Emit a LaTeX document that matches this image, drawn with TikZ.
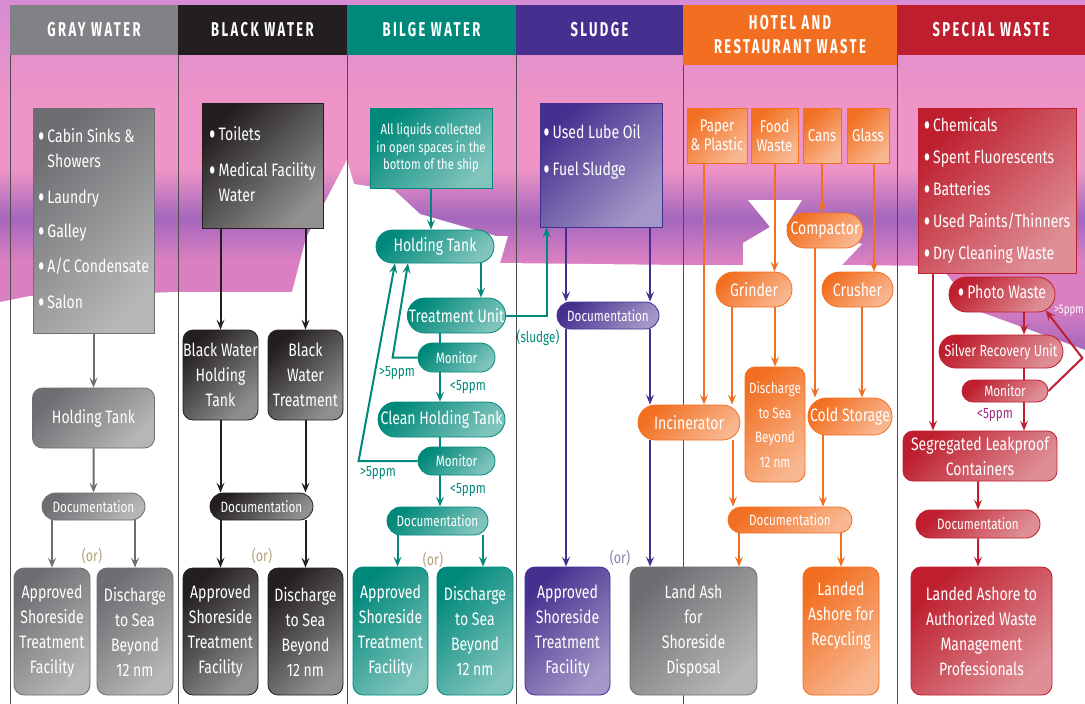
\documentclass[tikz,border=0pt]{standalone}
\usepackage{fontspec}
\setmainfont{Fira Sans}[FakeStretch=0.78]
\newfontfamily\headFont{Fira Sans}[FakeStretch=0.65, LetterSpace=12]
\usepackage{graphicx}
\usepackage{tikz}
\usetikzlibrary{arrows.meta, shapes.misc}

\definecolor{grayC}{HTML}{6D6E71}
\definecolor{grayHd}{HTML}{808285}
\definecolor{blackC}{HTML}{231F20}
\definecolor{tealC}{HTML}{00897A}
\definecolor{purpC}{HTML}{45308F}
\definecolor{orngC}{HTML}{F26F21}
\definecolor{redC}{HTML}{BE1E2D}
\definecolor{orTxt}{HTML}{B4A37A}
\definecolor{orPurp}{HTML}{8C80AC}
\definecolor{ppmRed}{HTML}{9E2A7E}
\definecolor{skyTop}{HTML}{D68CD4}
\definecolor{skyPink}{HTML}{EE94C6}
\definecolor{skyMix}{HTML}{DA80C2}
\definecolor{skyPurp}{HTML}{A466BC}

\def\bigTxt{\fontsize{18}{25}\selectfont}
\def\smallTxt{\fontsize{15}{17}\selectfont}
\newcommand{\bul}{\raisebox{-0.28em}{\scalebox{1.4}[1.8]{\textbullet}}}

\pgfdeclareverticalshading{skyfade}{100bp}{color(0bp)=(skyPurp); color(25bp)=(skyPurp);
  color(32bp)=(skyMix); color(38bp)=(skyMix); color(44bp)=(skyPurp);
  color(51bp)=(skyPink); color(61bp)=(skyPink); color(75bp)=(skyTop); color(100bp)=(skyTop)}

\begin{document}
\begin{tikzpicture}[
    x=1pt, y=-1pt,
    >={Stealth[length=10pt,width=8pt,inset=4pt]},
    every node/.style={inner sep=0pt, text=white, font=\bigTxt, align=center},
    head/.style={fill=#1, minimum height=50pt, font=\headFont\bfseries\fontsize{20}{24}\selectfont},
    srcbox/.style={rectangle, draw=#1, line width=0.8pt, top color=#1, bottom color=#1!50!white, shading angle=45},
    endbox/.style={srcbox=#1, rounded corners=10pt},
    pill/.style={srcbox=#1, rounded rectangle},
    flow/.style={->, draw=#1, line width=2pt},
    wire/.style={draw=#1, line width=2pt},
    lbl/.style={text=#1, font=\smallTxt}
]
\useasboundingbox (0,0) rectangle (1085,704);
\clip (0,0) rectangle (1085,704);

% sky behind the upper half
\shade[shading=skyfade] (0,0) rectangle (1085,352);
\fill[white] (0,704) -- (0,302) -- (30,296) -- (178,292) -- (292,292) -- (306,238)
  -- (347,160) -- (354,184) -- (394,190) -- (420,214) -- (496,236) -- (508,236)
  -- (500,263) -- (683,265) -- (743,265) -- (743,243) -- (770,227) -- (748,200)
  -- (802,200) -- (786,226) -- (862,244) -- (842,265) -- (940,266) -- (975,310)
  -- (1085,350) -- (1085,704) -- cycle;
\foreach \xx in {10,178,347,516,683,897}
  \draw[black!70, line width=0.8pt] (\xx,55) -- (\xx,704);

% headers
\node[head=grayHd, minimum width=168pt] (ghead) at (94,30) {GRAY WATER};
\node[head=blackC, minimum width=169pt] (bhead) at (262.5,30) {BLACK WATER};
\node[head=tealC, minimum width=169pt] (ihead) at (431.5,30) {BILGE WATER};
\node[head=purpC, minimum width=167pt] (shead) at (599.5,30) {SLUDGE};
\node[head=orngC, minimum width=214pt, minimum height=60pt] (hhead) at (790,35) {HOTEL AND\\RESTAURANT WASTE};
\node[head=redC, minimum width=188pt] (rhead) at (991,30) {SPECIAL WASTE};

% gray water
\node[srcbox=grayC, minimum width=121pt, minimum height=225pt] (gsrc) at (93.5,220.5) {%
  \begin{tabular}{@{}l@{\hspace{3pt}}l@{}}
  \bul & Cabin Sinks \&\\
       & Showers\\[11pt]
  \bul & Laundry\\[9pt]
  \bul & Galley\\[10pt]
  \bul & A/C Condensate\\[11pt]
  \bul & Salon
  \end{tabular}};
\node[endbox=grayC, minimum width=122pt, minimum height=60pt] (ghold) at (93.5,418) {Holding Tank};
\node[pill=grayC, minimum width=103pt, minimum height=27pt, font=\smallTxt] (gdoc) at (93.5,506.5) {Documentation};
\node[endbox=grayC, minimum width=76pt, minimum height=127pt] (gappr) at (52,631.5) {Approved\\Shoreside\\Treatment\\Facility};
\node[endbox=grayC, minimum width=76pt, minimum height=127pt] (gdis) at (135,631.5) {Discharge\\to Sea\\Beyond\\12 nm};
\node[lbl=orTxt, font=\fontsize{16}{18}\selectfont] (gor) at (92,556) {(or)};
\draw[flow=grayC] (gsrc) -- (ghold);
\draw[flow=grayC] (ghold) -- (gdoc);
\draw[flow=grayC] (gappr |- gdoc.south) -- (gappr);
\draw[flow=grayC] (gdis |- gdoc.south) -- (gdis);

% black water
\node[srcbox=blackC, minimum width=121pt, minimum height=125pt] (bsrc) at (262.5,165.5) {%
  \begin{tabular}{@{}l@{\hspace{3pt}}l@{}}
  \bul & Toilets\\[11pt]
  \bul & Medical Facility\\
       & Water
  \end{tabular}};
\node[endbox=blackC, minimum width=75pt, minimum height=90pt] (bhold) at (220.5,375) {Black Water\\Holding\\Tank};
\node[endbox=blackC, minimum width=75pt, minimum height=90pt] (btreat) at (305.5,375) {Black\\Water\\Treatment};
\node[pill=blackC, minimum width=103pt, minimum height=27pt, font=\smallTxt] (bdoc) at (261.5,506.5) {Documentation};
\node[endbox=blackC, minimum width=75pt, minimum height=127pt] (bappr) at (220.5,631.5) {Approved\\Shoreside\\Treatment\\Facility};
\node[endbox=blackC, minimum width=75pt, minimum height=127pt] (bdis) at (305.5,631.5) {Discharge\\to Sea\\Beyond\\12 nm};
\node[lbl=orTxt, font=\fontsize{16}{18}\selectfont] (bor) at (262,556) {(or)};
\draw[flow=blackC] (bhold |- bsrc.south) -- (bhold);
\draw[flow=blackC] (btreat |- bsrc.south) -- (btreat);
\draw[flow=blackC] (bhold) -- (bhold |- bdoc.north);
\draw[flow=blackC] (btreat) -- (btreat |- bdoc.north);
\draw[flow=blackC] (bappr |- bdoc.south) -- (bappr);
\draw[flow=blackC] (bdis |- bdoc.south) -- (bdis);

% bilge water
\node[srcbox=tealC, minimum width=122pt, minimum height=80pt, font=\fontsize{14.5}{17.5}\selectfont] (isrc) at (431,148) {All liquids collected\\in open spaces in the\\bottom of the ship};
\node[pill=tealC, minimum width=118pt, minimum height=33pt] (ihold) at (435,246.5) {Holding Tank};
\node[pill=tealC, minimum width=97pt, minimum height=35pt] (itreat) at (456.5,315.5) {Treatment Unit};
\node[pill=tealC, minimum width=77pt, minimum height=29pt, font=\smallTxt] (imonA) at (456.5,357.5) {Monitor};
\node[pill=tealC, minimum width=127pt, minimum height=35pt] (iclean) at (441.5,419.5) {Clean Holding Tank};
\node[pill=tealC, minimum width=77pt, minimum height=28pt, font=\smallTxt] (imonB) at (456.5,461) {Monitor};
\node[pill=tealC, minimum width=101pt, minimum height=28pt, font=\smallTxt] (idoc) at (437.5,521) {Documentation};
\node[endbox=tealC, minimum width=75pt, minimum height=128pt] (iappr) at (390.5,631) {Approved\\Shoreside\\Treatment\\Facility};
\node[endbox=tealC, minimum width=76pt, minimum height=128pt] (idis) at (475,631) {Discharge\\to Sea\\Beyond\\12 nm};
\node[lbl=orTxt, font=\fontsize{16}{18}\selectfont] (ior) at (433,560) {(or)};
\node[lbl=tealC] (iupA) at (397,373) {>5ppm};
\node[lbl=tealC] (idnA) at (468,387) {<5ppm};
\node[lbl=tealC] (iupB) at (378,473) {>5ppm};
\node[lbl=tealC] (idnB) at (468,490) {<5ppm};
\node[lbl=tealC] (islg) at (538,338) {(sludge)};
\draw[flow=tealC] (isrc) -- (isrc |- ihold.north);
\draw[flow=tealC] ([xshift=46pt]ihold.south) -- ([xshift=46pt]ihold.south |- itreat.north);
\draw[wire=tealC] ([xshift=-16.5pt]itreat.south) -- ([xshift=-16.5pt]itreat.south |- imonA.north);
\draw[flow=tealC] (imonA.west) -- ++(-25,0) -- ([xshift=-27pt]ihold.south);
\draw[flow=tealC] ([xshift=-16.5pt]imonA.south) -- ([xshift=-16.5pt]imonA.south |- iclean.north);
\draw[wire=tealC] ([xshift=-1.5pt]iclean.south) -- ([xshift=-1.5pt]iclean.south |- imonB.north);
\draw[flow=tealC] (imonB.west) -- ++(-59,0) -- ([xshift=-40pt]ihold.south);
\draw[flow=tealC] ([xshift=-16.5pt]imonB.south) -- ([xshift=-16.5pt]imonB.south |- idoc.north);
\draw[flow=tealC] ([xshift=7pt]iappr.north |- idoc.south) -- ([xshift=7pt]iappr.north);
\draw[flow=tealC] ([xshift=8pt]idis.north |- idoc.south) -- ([xshift=8pt]idis.north);

% sludge
\node[srcbox=purpC, minimum width=122pt, minimum height=124pt] (ssrc) at (601,165) {%
  \begin{tabular}{@{}l@{\hspace{3pt}}l@{\hspace{18pt}}}
  \bul & Used Lube Oil\\[12pt]
  \bul & Fuel Sludge\\[26pt]
  \end{tabular}};
\node[pill=purpC, minimum width=102pt, minimum height=27pt, font=\smallTxt] (sdoc) at (608,315.5) {Documentation};
\node[endbox=purpC, minimum width=85pt, minimum height=128pt] (sappr) at (567.5,631) {Approved\\Shoreside\\Treatment\\Facility};
\node[endbox=grayC, minimum width=127pt, minimum height=128pt] (hland) at (693.5,631) {Land Ash\\for\\Shoreside\\Disposal};
\node[lbl=orPurp, font=\fontsize{16}{18}\selectfont] (sor) at (620,558) {(or)};
\draw[flow=tealC] (itreat.east) -| ([xshift=7pt]ssrc.south west);
\draw[flow=purpC] ([xshift=-42pt]sdoc.north |- ssrc.south) -- ([xshift=-42pt]sdoc.north);
\draw[flow=purpC] ([xshift=42pt]sdoc.north |- ssrc.south) -- ([xshift=42pt]sdoc.north);
\draw[flow=purpC] ([xshift=-42pt]sdoc.south) -- ([xshift=-42pt]sdoc.south |- sappr.north);

% hotel and restaurant waste
\node[srcbox=orngC, minimum width=60pt, minimum height=55pt, font=\fontsize{17}{19}\selectfont] (hpap) at (717,135.5) {Paper\\\& Plastic};
\node[srcbox=orngC, minimum width=47pt, minimum height=55pt, font=\fontsize{17}{19}\selectfont] (hfood) at (774.5,135.5) {Food\\Waste};
\node[srcbox=orngC, minimum width=38pt, minimum height=55pt, font=\fontsize{17}{19}\selectfont] (hcan) at (822,135.5) {Cans};
\node[srcbox=orngC, minimum width=42pt, minimum height=55pt, font=\fontsize{17}{19}\selectfont] (hgls) at (868,135.5) {Glass};
\node[pill=orngC, minimum width=76pt, minimum height=35pt] (hcmp) at (825,230.5) {Compactor};
\node[pill=orngC, minimum width=76pt, minimum height=35pt] (hgrd) at (754,289.5) {Grinder};
\node[pill=orngC, minimum width=71pt, minimum height=35pt] (hcru) at (857.5,289.5) {Crusher};
\node[pill=orngC, minimum width=102pt, minimum height=35pt] (hinc) at (689,422.5) {Incinerator};
\node[endbox=orngC, minimum width=60pt, minimum height=115pt, font=\fontsize{15}{24.5}\selectfont] (hdis) at (775,424.5) {Discharge\\to Sea\\Beyond\\12 nm};
\node[pill=orngC, minimum width=80pt, minimum height=37pt] (hcold) at (850,416.5) {Cold Storage};
\node[pill=orngC, minimum width=124pt, minimum height=26pt, font=\smallTxt] (hdoc) at (790,520) {Documentation};
\node[endbox=orngC, minimum width=76pt, minimum height=128pt] (hrec) at (841,631) {Landed\\Ashore for\\Recycling\\[9pt]\mbox{}};
\draw[flow=purpC] ([xshift=42pt]sdoc.south) -- ([xshift=42pt]sdoc.south |- hinc.north);
\draw[flow=purpC] ([xshift=-39pt]hinc.south) -- ([xshift=-39pt]hinc.south |- hland.north);
\draw[flow=orngC] ([xshift=-13pt]hpap.south) -- ([xshift=-13pt]hpap.south |- hinc.north);
\draw[flow=orngC] (hfood) -- (hfood |- hgrd.north);
\draw[flow=orngC] (hcan) -- (hcan |- hcmp.north);
\draw[flow=orngC] ([xshift=6pt]hgls.south) -- ([xshift=6pt]hgls.south |- hcru.north);
\draw[flow=orngC] ([xshift=-22pt]hgrd.south) -- ([xshift=-22pt]hgrd.south |- hinc.north);
\draw[flow=orngC] (hdis |- hgrd.south) -- (hdis);
\draw[flow=orngC] ([xshift=-10pt]hcmp.south) -- ([xshift=-10pt]hcmp.south |- hcold.north);
\draw[flow=orngC] ([xshift=4.5pt]hcru.south) -- ([xshift=4.5pt]hcru.south |- hcold.north);
\draw[flow=orngC] ([xshift=44pt]hinc.south) -- ([xshift=44pt]hinc.south |- hdoc.north);
\draw[flow=orngC] ([xshift=-27pt]hcold.south) -- ([xshift=-27pt]hcold.south |- hdoc.north);
\draw[flow=orngC] ([xshift=-51pt]hdoc.south) -- ([xshift=-51pt]hdoc.south |- hland.north);
\draw[flow=orngC] (hrec |- hdoc.south) -- (hrec);

% special waste
\node[srcbox=redC, minimum width=158pt, minimum height=165pt] (rsrc) at (997,190.5) {%
  \begin{tabular}{@{}l@{\hspace{3pt}}l@{}}
  \bul & Chemicals\\[7pt]
  \bul & Spent Fluorescents\\[7pt]
  \bul & Batteries\\[7pt]
  \bul & Used Paints/Thinners\\[7pt]
  \bul & Dry Cleaning Waste
  \end{tabular}};
\node[pill=redC, minimum width=106pt, minimum height=35pt] (rpho) at (1002,294.5) {\bul\hspace{3pt}Photo Waste};
\node[pill=redC, minimum width=124pt, minimum height=33pt, font=\fontsize{16}{18}\selectfont] (rsil) at (1001,351.5) {Silver Recovery Unit};
\node[pill=redC, minimum width=86pt, minimum height=22pt, font=\smallTxt] (rmon) at (1005,391) {Monitor};
\node[endbox=redC, minimum width=154pt, minimum height=50pt] (rseg) at (980,456) {Segregated Leakproof\\Containers};
\node[pill=redC, minimum width=124pt, minimum height=28pt, font=\smallTxt] (rdoc) at (978,524) {Documentation};
\node[endbox=redC, minimum width=141pt, minimum height=128pt] (rfin) at (981.5,631) {Landed Ashore to\\Authorized Waste\\Management\\Professionals};
\node[lbl=white, anchor=east, font=\fontsize{12.5}{14}\selectfont] (rup) at (1084,311) {>5ppm};
\node[lbl=ppmRed] (rdn) at (995,415) {<5ppm};
\draw[flow=redC] ([xshift=-64pt]rsrc.south) -- ([xshift=-64pt]rsrc.south |- rseg.north);
\draw[flow=redC] ([xshift=22pt]rpho.south) -- ([xshift=22pt]rpho.south |- rsil.north);
\draw[wire=redC] ([xshift=23pt]rsil.south) -- ([xshift=23pt]rsil.south |- rmon.north);
\draw[flow=redC] ([xshift=19pt]rmon.south) -- ([xshift=19pt]rmon.south |- rseg.north);
\draw[flow=redC] (rmon.east) -- ++(34,-33) -- (rpho.-20);
\draw[flow=redC] (rdoc |- rseg.south) -- (rdoc);
\draw[flow=redC] (rdoc) -- (rdoc |- rfin.north);
\end{tikzpicture}
\end{document}
